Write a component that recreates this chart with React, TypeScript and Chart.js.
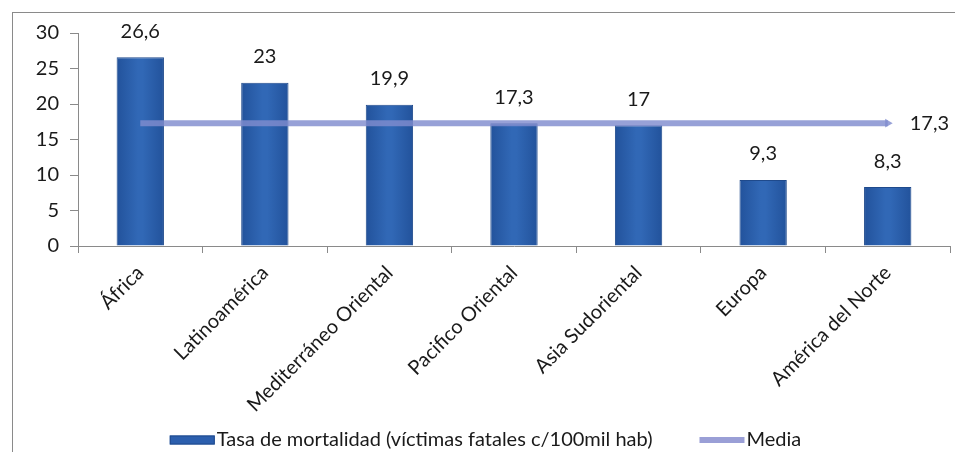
import { useEffect, useRef } from "react";
import { Chart, registerables } from "chart.js";

Chart.register(...registerables);

// Regions and mortality rates (fatal victims per 100,000 inhabitants)
const categories = [
  "África",
  "Latinoamérica",
  "Mediterráneo Oriental",
  "Pacifico Oriental",
  "Asia Sudoriental",
  "Europa",
  "América del Norte",
];
const mortalityRates = [26.6, 23, 19.9, 17.3, 17, 9.3, 8.3];
const averageSeries = [17.3, 17.3, 17.3, 17.3, 17.3, 17.3, 17.3];
const yAxisMin = 0;
const yAxisMax = 30;
const yAxisStep = 5;

const seriesNames = ["Tasa de mortalidad (víctimas fatales c/100mil hab)", "Media"];

const FONT_FAMILY = "Lato, 'Open Sans', sans-serif";
const TEXT_COLOR = "#1a1a1a";
const AXIS_COLOR = "#8a8a8a";
const BAR_COLOR = "#2c5fae";
const BAR_EDGE = "#1f4a8c";
const MEAN_COLOR = "rgba(128, 140, 206, 0.82)";
const MEAN_LEGEND = "#9a9fd6";

const formatValue = (v: number) => String(v).replace(".", ",");

// Horizontal shading across each bar: darker edges, lighter middle
const barFill = (c: any) => {
  const chart = c.chart;
  const xScale = chart.scales?.x;
  if (!chart.chartArea || !xScale || c.dataIndex === undefined) return BAR_COLOR;
  const cx = xScale.getPixelForValue(c.dataIndex);
  const half = 24;
  const g = chart.ctx.createLinearGradient(cx - half, 0, cx + half, 0);
  g.addColorStop(0, "#22529b");
  g.addColorStop(0.45, "#3168b6");
  g.addColorStop(0.55, "#3168b6");
  g.addColorStop(1, "#22529b");
  return g;
};

// Writes each bar's value above it and the mean value after the line's end
const valueLabels = {
  id: "valueLabels",
  afterDatasetsDraw(chart: any) {
    const ctx = chart.ctx as CanvasRenderingContext2D;
    ctx.save();
    ctx.font = `20px ${FONT_FAMILY}`;
    ctx.fillStyle = TEXT_COLOR;
    ctx.textBaseline = "middle";
    ctx.textAlign = "center";
    const bars = chart.getDatasetMeta(0).data;
    bars.forEach((el: any, i: number) => {
      ctx.fillText(formatValue(mortalityRates[i]), el.x, el.y - 26);
    });
    const points = chart.getDatasetMeta(1).data;
    const lastIndex = points.length - 1;
    const last = points[lastIndex];
    ctx.textAlign = "left";
    ctx.fillText(formatValue(averageSeries[lastIndex]), last.x + 22, last.y);
    ctx.restore();
  },
};

// Legend row under the axis labels: bar swatch, line swatch and series names
const bottomLegend = {
  id: "bottomLegend",
  afterDraw(chart: any) {
    const ctx = chart.ctx as CanvasRenderingContext2D;
    ctx.save();
    ctx.font = `20px ${FONT_FAMILY}`;
    ctx.textBaseline = "middle";
    ctx.textAlign = "left";
    const y = 440;
    const swatchW = 45;
    const textGap = 2;
    const itemGap = 47;
    const w0 = ctx.measureText(seriesNames[0]).width;
    const w1 = ctx.measureText(seriesNames[1]).width;
    const total = swatchW + textGap + w0 + itemGap + swatchW + textGap + w1;
    let x = chart.width / 2 + 8 - total / 2;

    ctx.fillStyle = BAR_COLOR;
    ctx.fillRect(x, y - 4.5, swatchW, 9);
    ctx.strokeStyle = BAR_EDGE;
    ctx.lineWidth = 1;
    ctx.strokeRect(x + 0.5, y - 4, swatchW - 1, 8);
    x += swatchW + textGap;
    ctx.fillStyle = TEXT_COLOR;
    ctx.fillText(seriesNames[0], x, y);
    x += w0 + itemGap;

    ctx.strokeStyle = MEAN_LEGEND;
    ctx.lineWidth = 6;
    ctx.beginPath();
    ctx.moveTo(x, y);
    ctx.lineTo(x + swatchW, y);
    ctx.stroke();
    x += swatchW + textGap;
    ctx.fillStyle = TEXT_COLOR;
    ctx.fillText(seriesNames[1], x, y);
    ctx.restore();
  },
};

export default function App() {
  const canvasRef = useRef<HTMLCanvasElement | null>(null);

  useEffect(() => {
    const canvas = canvasRef.current;
    if (!canvas) return;
    const lastIndex = averageSeries.length - 1;
    const chart = new Chart(canvas, {
      type: "bar",
      data: {
        labels: categories,
        datasets: [
          {
            type: "bar",
            label: seriesNames[0],
            data: mortalityRates,
            backgroundColor: barFill,
            borderColor: BAR_EDGE,
            borderWidth: 1,
            categoryPercentage: 1,
            barPercentage: 0.38,
            order: 1,
          },
          {
            type: "line",
            label: seriesNames[1],
            data: averageSeries,
            borderColor: MEAN_COLOR,
            backgroundColor: MEAN_COLOR,
            borderWidth: 6,
            pointStyle: "triangle",
            pointRotation: 90,
            pointRadius: (c: any) => (c.dataIndex === lastIndex ? 5 : 0),
            pointBorderWidth: 0,
            pointBackgroundColor: MEAN_COLOR,
            borderCapStyle: "butt",
            fill: false,
            order: 0,
          },
        ],
      },
      options: {
        responsive: false,
        animation: false,
        devicePixelRatio: 1,
        layout: { padding: { left: 0, right: 2, top: 33, bottom: 40 } },
        scales: {
          x: {
            offset: true,
            grid: {
              display: true,
              offset: true,
              drawOnChartArea: false,
              drawTicks: true,
              tickLength: 7,
              color: AXIS_COLOR,
            },
            border: { display: true, color: AXIS_COLOR, width: 1 },
            ticks: {
              autoSkip: false,
              minRotation: 45,
              maxRotation: 45,
              padding: 8,
              color: TEXT_COLOR,
              font: { family: FONT_FAMILY, size: 20 },
            },
            afterFit: (scale: any) => {
              scale.height = 174;
            },
          },
          y: {
            min: yAxisMin,
            max: yAxisMax,
            grid: {
              display: true,
              drawOnChartArea: false,
              drawTicks: true,
              tickLength: 8,
              color: AXIS_COLOR,
            },
            border: { display: true, color: AXIS_COLOR, width: 1 },
            ticks: {
              stepSize: yAxisStep,
              padding: 11,
              color: TEXT_COLOR,
              font: { family: FONT_FAMILY, size: 20 },
            },
            afterFit: (scale: any) => {
              scale.width = 78;
            },
          },
        },
        plugins: {
          tooltip: { enabled: false },
          legend: { display: false },
        },
      },
      plugins: [valueLabels, bottomLegend],
    });
    return () => chart.destroy();
  }, []);

  return (
    <>
      <div
        style={{
          position: "fixed",
          left: 12,
          top: 12,
          width: 1000,
          height: 1000,
          border: `1px solid ${AXIS_COLOR}`,
          boxSizing: "border-box",
        }}
      />
      <canvas
        ref={canvasRef}
        width={955}
        height={460}
        style={{ position: "fixed", left: 0, top: 0, width: "955px", height: "460px" }}
      />
    </>
  );
}
